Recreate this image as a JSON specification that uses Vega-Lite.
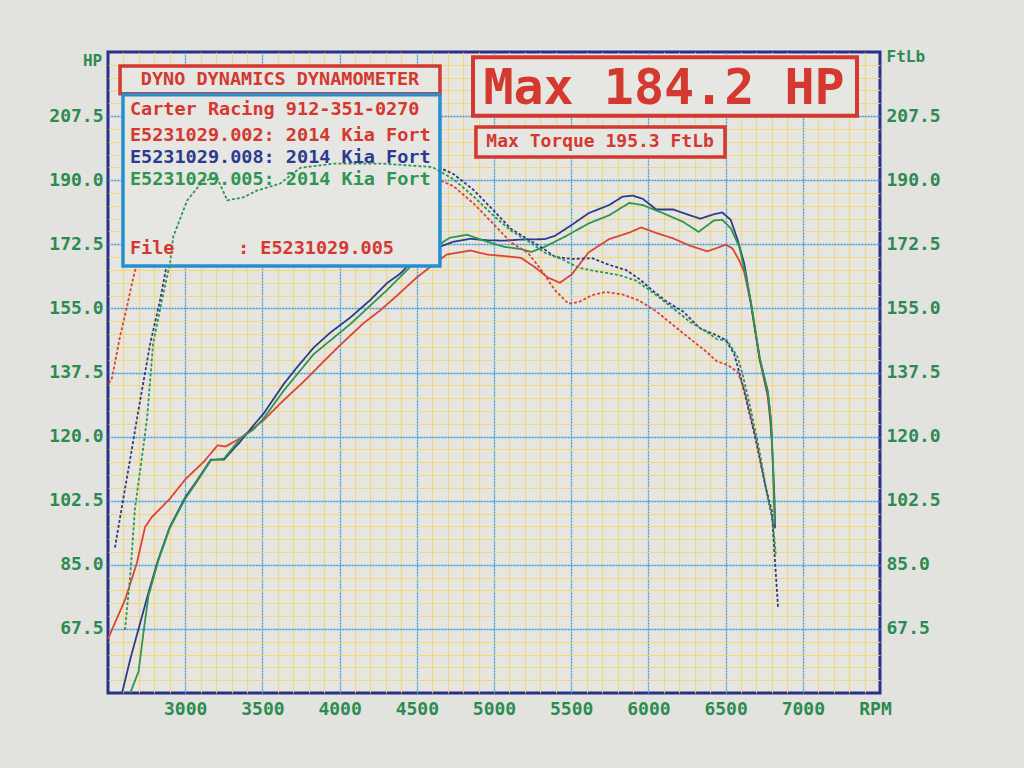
{
"$schema": "https://vega.github.io/schema/vega-lite/v6.json",
"width": 772, "height": 641,
"autosize": {"type": "none"},
"padding": {"left": 108, "top": 52, "right": 144, "bottom": 75},
"background": "#e2e2df",
"config": {
 "view": {"fill": "#e6e5e0", "stroke": "#28318a", "strokeWidth": 3},
 "axis": {"labelFont": "DejaVu Sans Mono", "labelFontWeight": "bold", "labelColor": "#2b8c50", "labelFontSize": 18, "titleFont": "DejaVu Sans Mono", "titleFontWeight": "bold", "titleColor": "#2b8c50"}
},
"datasets": {
 "one": [{}],
 "curves": [
{"rpm":2500,"v":64.8,"run":"E5231029.002","kind":"HP"},{"rpm":2612,"v":75.6,"run":"E5231029.002","kind":"HP"},{"rpm":2687,"v":85.5,"run":"E5231029.002","kind":"HP"},{"rpm":2740,"v":95.3,"run":"E5231029.002","kind":"HP"},{"rpm":2783,"v":98.0,"run":"E5231029.002","kind":"HP"},{"rpm":2847,"v":100.7,"run":"E5231029.002","kind":"HP"},{"rpm":2900,"v":103.0,"run":"E5231029.002","kind":"HP"},{"rpm":3000,"v":108.3,"run":"E5231029.002","kind":"HP"},{"rpm":3124,"v":113.3,"run":"E5231029.002","kind":"HP"},{"rpm":3209,"v":117.6,"run":"E5231029.002","kind":"HP"},{"rpm":3262,"v":117.3,"run":"E5231029.002","kind":"HP"},{"rpm":3358,"v":119.6,"run":"E5231029.002","kind":"HP"},{"rpm":3508,"v":124.5,"run":"E5231029.002","kind":"HP"},{"rpm":3637,"v":129.9,"run":"E5231029.002","kind":"HP"},{"rpm":3767,"v":135.0,"run":"E5231029.002","kind":"HP"},{"rpm":3896,"v":140.5,"run":"E5231029.002","kind":"HP"},{"rpm":4004,"v":145.0,"run":"E5231029.002","kind":"HP"},{"rpm":4156,"v":151.0,"run":"E5231029.002","kind":"HP"},{"rpm":4264,"v":154.5,"run":"E5231029.002","kind":"HP"},{"rpm":4372,"v":158.5,"run":"E5231029.002","kind":"HP"},{"rpm":4501,"v":163.5,"run":"E5231029.002","kind":"HP"},{"rpm":4606,"v":166.9,"run":"E5231029.002","kind":"HP"},{"rpm":4693,"v":169.7,"run":"E5231029.002","kind":"HP"},{"rpm":4847,"v":170.8,"run":"E5231029.002","kind":"HP"},{"rpm":4956,"v":169.7,"run":"E5231029.002","kind":"HP"},{"rpm":5088,"v":169.2,"run":"E5231029.002","kind":"HP"},{"rpm":5175,"v":168.8,"run":"E5231029.002","kind":"HP"},{"rpm":5263,"v":166.3,"run":"E5231029.002","kind":"HP"},{"rpm":5350,"v":163.4,"run":"E5231029.002","kind":"HP"},{"rpm":5427,"v":162.0,"run":"E5231029.002","kind":"HP"},{"rpm":5504,"v":164.3,"run":"E5231029.002","kind":"HP"},{"rpm":5613,"v":170.3,"run":"E5231029.002","kind":"HP"},{"rpm":5745,"v":173.9,"run":"E5231029.002","kind":"HP"},{"rpm":5876,"v":175.7,"run":"E5231029.002","kind":"HP"},{"rpm":5953,"v":177.1,"run":"E5231029.002","kind":"HP"},{"rpm":6051,"v":175.6,"run":"E5231029.002","kind":"HP"},{"rpm":6161,"v":174.1,"run":"E5231029.002","kind":"HP"},{"rpm":6270,"v":172.1,"run":"E5231029.002","kind":"HP"},{"rpm":6380,"v":170.6,"run":"E5231029.002","kind":"HP"},{"rpm":6445,"v":171.5,"run":"E5231029.002","kind":"HP"},{"rpm":6500,"v":172.4,"run":"E5231029.002","kind":"HP"},{"rpm":6544,"v":171.4,"run":"E5231029.002","kind":"HP"},{"rpm":6588,"v":168.1,"run":"E5231029.002","kind":"HP"},{"rpm":6620,"v":165.0,"run":"E5231029.002","kind":"HP"},{"rpm":6663,"v":156.5,"run":"E5231029.002","kind":"HP"},{"rpm":6721,"v":141.0,"run":"E5231029.002","kind":"HP"},{"rpm":6773,"v":131.0,"run":"E5231029.002","kind":"HP"},{"rpm":6790,"v":124.0,"run":"E5231029.002","kind":"HP"},{"rpm":6800,"v":119.5,"run":"E5231029.002","kind":"HP"},
{"rpm":2591,"v":50.0,"run":"E5231029.008","kind":"HP"},{"rpm":2645,"v":59.4,"run":"E5231029.008","kind":"HP"},{"rpm":2698,"v":67.5,"run":"E5231029.008","kind":"HP"},{"rpm":2762,"v":77.4,"run":"E5231029.008","kind":"HP"},{"rpm":2825,"v":86.4,"run":"E5231029.008","kind":"HP"},{"rpm":2900,"v":95.3,"run":"E5231029.008","kind":"HP"},{"rpm":3000,"v":103.4,"run":"E5231029.008","kind":"HP"},{"rpm":3081,"v":108.3,"run":"E5231029.008","kind":"HP"},{"rpm":3166,"v":113.7,"run":"E5231029.008","kind":"HP"},{"rpm":3251,"v":113.7,"run":"E5231029.008","kind":"HP"},{"rpm":3358,"v":118.7,"run":"E5231029.008","kind":"HP"},{"rpm":3443,"v":123.1,"run":"E5231029.008","kind":"HP"},{"rpm":3508,"v":126.3,"run":"E5231029.008","kind":"HP"},{"rpm":3637,"v":134.3,"run":"E5231029.008","kind":"HP"},{"rpm":3724,"v":138.9,"run":"E5231029.008","kind":"HP"},{"rpm":3832,"v":144.3,"run":"E5231029.008","kind":"HP"},{"rpm":3940,"v":148.4,"run":"E5231029.008","kind":"HP"},{"rpm":4069,"v":152.5,"run":"E5231029.008","kind":"HP"},{"rpm":4199,"v":157.3,"run":"E5231029.008","kind":"HP"},{"rpm":4307,"v":161.9,"run":"E5231029.008","kind":"HP"},{"rpm":4393,"v":164.5,"run":"E5231029.008","kind":"HP"},{"rpm":4458,"v":167.3,"run":"E5231029.008","kind":"HP"},{"rpm":4501,"v":168.2,"run":"E5231029.008","kind":"HP"},{"rpm":4588,"v":171.0,"run":"E5231029.008","kind":"HP"},{"rpm":4660,"v":172.0,"run":"E5231029.008","kind":"HP"},{"rpm":4737,"v":173.2,"run":"E5231029.008","kind":"HP"},{"rpm":4847,"v":174.0,"run":"E5231029.008","kind":"HP"},{"rpm":4956,"v":173.6,"run":"E5231029.008","kind":"HP"},{"rpm":5066,"v":173.5,"run":"E5231029.008","kind":"HP"},{"rpm":5175,"v":173.8,"run":"E5231029.008","kind":"HP"},{"rpm":5328,"v":173.9,"run":"E5231029.008","kind":"HP"},{"rpm":5394,"v":174.8,"run":"E5231029.008","kind":"HP"},{"rpm":5504,"v":177.8,"run":"E5231029.008","kind":"HP"},{"rpm":5613,"v":181.0,"run":"E5231029.008","kind":"HP"},{"rpm":5745,"v":183.2,"run":"E5231029.008","kind":"HP"},{"rpm":5832,"v":185.5,"run":"E5231029.008","kind":"HP"},{"rpm":5898,"v":185.8,"run":"E5231029.008","kind":"HP"},{"rpm":5964,"v":184.9,"run":"E5231029.008","kind":"HP"},{"rpm":6051,"v":182.0,"run":"E5231029.008","kind":"HP"},{"rpm":6161,"v":182.0,"run":"E5231029.008","kind":"HP"},{"rpm":6270,"v":180.4,"run":"E5231029.008","kind":"HP"},{"rpm":6336,"v":179.5,"run":"E5231029.008","kind":"HP"},{"rpm":6424,"v":180.7,"run":"E5231029.008","kind":"HP"},{"rpm":6478,"v":181.2,"run":"E5231029.008","kind":"HP"},{"rpm":6533,"v":179.2,"run":"E5231029.008","kind":"HP"},{"rpm":6577,"v":173.8,"run":"E5231029.008","kind":"HP"},{"rpm":6621,"v":167.2,"run":"E5231029.008","kind":"HP"},{"rpm":6663,"v":156.6,"run":"E5231029.008","kind":"HP"},{"rpm":6721,"v":141.2,"run":"E5231029.008","kind":"HP"},{"rpm":6773,"v":132.1,"run":"E5231029.008","kind":"HP"},{"rpm":6792,"v":124.9,"run":"E5231029.008","kind":"HP"},{"rpm":6808,"v":111.3,"run":"E5231029.008","kind":"HP"},{"rpm":6817,"v":102.2,"run":"E5231029.008","kind":"HP"},{"rpm":6820,"v":95.0,"run":"E5231029.008","kind":"HP"},
{"rpm":2644,"v":50.0,"run":"E5231029.005","kind":"HP"},{"rpm":2698,"v":55.9,"run":"E5231029.005","kind":"HP"},{"rpm":2730,"v":66.6,"run":"E5231029.005","kind":"HP"},{"rpm":2762,"v":76.5,"run":"E5231029.005","kind":"HP"},{"rpm":2825,"v":86.0,"run":"E5231029.005","kind":"HP"},{"rpm":2900,"v":95.0,"run":"E5231029.005","kind":"HP"},{"rpm":3000,"v":103.0,"run":"E5231029.005","kind":"HP"},{"rpm":3081,"v":108.0,"run":"E5231029.005","kind":"HP"},{"rpm":3166,"v":113.5,"run":"E5231029.005","kind":"HP"},{"rpm":3251,"v":114.0,"run":"E5231029.005","kind":"HP"},{"rpm":3358,"v":119.5,"run":"E5231029.005","kind":"HP"},{"rpm":3443,"v":122.0,"run":"E5231029.005","kind":"HP"},{"rpm":3508,"v":125.0,"run":"E5231029.005","kind":"HP"},{"rpm":3637,"v":132.5,"run":"E5231029.005","kind":"HP"},{"rpm":3832,"v":142.5,"run":"E5231029.005","kind":"HP"},{"rpm":4069,"v":150.7,"run":"E5231029.005","kind":"HP"},{"rpm":4307,"v":160.0,"run":"E5231029.005","kind":"HP"},{"rpm":4480,"v":167.3,"run":"E5231029.005","kind":"HP"},{"rpm":4588,"v":171.0,"run":"E5231029.005","kind":"HP"},{"rpm":4715,"v":174.3,"run":"E5231029.005","kind":"HP"},{"rpm":4825,"v":175.1,"run":"E5231029.005","kind":"HP"},{"rpm":4956,"v":173.2,"run":"E5231029.005","kind":"HP"},{"rpm":5066,"v":171.8,"run":"E5231029.005","kind":"HP"},{"rpm":5175,"v":171.2,"run":"E5231029.005","kind":"HP"},{"rpm":5241,"v":170.4,"run":"E5231029.005","kind":"HP"},{"rpm":5328,"v":171.8,"run":"E5231029.005","kind":"HP"},{"rpm":5460,"v":174.6,"run":"E5231029.005","kind":"HP"},{"rpm":5613,"v":178.2,"run":"E5231029.005","kind":"HP"},{"rpm":5745,"v":180.4,"run":"E5231029.005","kind":"HP"},{"rpm":5876,"v":183.8,"run":"E5231029.005","kind":"HP"},{"rpm":5964,"v":183.2,"run":"E5231029.005","kind":"HP"},{"rpm":6095,"v":181.0,"run":"E5231029.005","kind":"HP"},{"rpm":6226,"v":178.6,"run":"E5231029.005","kind":"HP"},{"rpm":6325,"v":175.9,"run":"E5231029.005","kind":"HP"},{"rpm":6424,"v":179.0,"run":"E5231029.005","kind":"HP"},{"rpm":6478,"v":179.2,"run":"E5231029.005","kind":"HP"},{"rpm":6533,"v":176.9,"run":"E5231029.005","kind":"HP"},{"rpm":6588,"v":171.9,"run":"E5231029.005","kind":"HP"},{"rpm":6630,"v":164.0,"run":"E5231029.005","kind":"HP"},{"rpm":6663,"v":157.0,"run":"E5231029.005","kind":"HP"},{"rpm":6721,"v":141.5,"run":"E5231029.005","kind":"HP"},{"rpm":6773,"v":132.5,"run":"E5231029.005","kind":"HP"},{"rpm":6795,"v":124.0,"run":"E5231029.005","kind":"HP"},{"rpm":6808,"v":111.0,"run":"E5231029.005","kind":"HP"},{"rpm":6815,"v":100.0,"run":"E5231029.005","kind":"HP"},{"rpm":6818,"v":96.0,"run":"E5231029.005","kind":"HP"},
{"rpm":2505,"v":134.5,"run":"E5231029.002","kind":"Torque"},{"rpm":2526,"v":136.0,"run":"E5231029.002","kind":"Torque"},{"rpm":2578,"v":147.4,"run":"E5231029.002","kind":"Torque"},{"rpm":2623,"v":155.5,"run":"E5231029.002","kind":"Torque"},{"rpm":2656,"v":162.0,"run":"E5231029.002","kind":"Torque"},{"rpm":2688,"v":167.4,"run":"E5231029.002","kind":"Torque"},{"rpm":4628,"v":190.4,"run":"E5231029.002","kind":"Torque"},{"rpm":4737,"v":188.4,"run":"E5231029.002","kind":"Torque"},{"rpm":4869,"v":183.6,"run":"E5231029.002","kind":"Torque"},{"rpm":5000,"v":177.9,"run":"E5231029.002","kind":"Torque"},{"rpm":5110,"v":173.0,"run":"E5231029.002","kind":"Torque"},{"rpm":5219,"v":170.2,"run":"E5231029.002","kind":"Torque"},{"rpm":5306,"v":165.5,"run":"E5231029.002","kind":"Torque"},{"rpm":5394,"v":160.0,"run":"E5231029.002","kind":"Torque"},{"rpm":5482,"v":156.3,"run":"E5231029.002","kind":"Torque"},{"rpm":5548,"v":156.7,"run":"E5231029.002","kind":"Torque"},{"rpm":5635,"v":158.6,"run":"E5231029.002","kind":"Torque"},{"rpm":5723,"v":159.5,"run":"E5231029.002","kind":"Torque"},{"rpm":5832,"v":158.8,"run":"E5231029.002","kind":"Torque"},{"rpm":5942,"v":157.1,"run":"E5231029.002","kind":"Torque"},{"rpm":6051,"v":154.2,"run":"E5231029.002","kind":"Torque"},{"rpm":6161,"v":150.4,"run":"E5231029.002","kind":"Torque"},{"rpm":6270,"v":146.7,"run":"E5231029.002","kind":"Torque"},{"rpm":6380,"v":143.0,"run":"E5231029.002","kind":"Torque"},{"rpm":6445,"v":140.5,"run":"E5231029.002","kind":"Torque"},{"rpm":6511,"v":139.6,"run":"E5231029.002","kind":"Torque"},{"rpm":6577,"v":137.7,"run":"E5231029.002","kind":"Torque"},{"rpm":6620,"v":133.0,"run":"E5231029.002","kind":"Torque"},{"rpm":6660,"v":126.0,"run":"E5231029.002","kind":"Torque"},{"rpm":6700,"v":119.0,"run":"E5231029.002","kind":"Torque"},{"rpm":6757,"v":106.5,"run":"E5231029.002","kind":"Torque"},{"rpm":6800,"v":98.0,"run":"E5231029.002","kind":"Torque"},{"rpm":6810,"v":95.0,"run":"E5231029.002","kind":"Torque"},
{"rpm":2545,"v":89.7,"run":"E5231029.008","kind":"Torque"},{"rpm":2600,"v":103.3,"run":"E5231029.008","kind":"Torque"},{"rpm":2656,"v":116.9,"run":"E5231029.008","kind":"Torque"},{"rpm":2688,"v":125.0,"run":"E5231029.008","kind":"Torque"},{"rpm":2773,"v":145.3,"run":"E5231029.008","kind":"Torque"},{"rpm":2838,"v":157.4,"run":"E5231029.008","kind":"Torque"},{"rpm":2883,"v":167.4,"run":"E5231029.008","kind":"Torque"},{"rpm":4584,"v":194.6,"run":"E5231029.008","kind":"Torque"},{"rpm":4737,"v":191.7,"run":"E5231029.008","kind":"Torque"},{"rpm":4869,"v":187.3,"run":"E5231029.008","kind":"Torque"},{"rpm":5000,"v":181.6,"run":"E5231029.008","kind":"Torque"},{"rpm":5110,"v":176.7,"run":"E5231029.008","kind":"Torque"},{"rpm":5219,"v":173.9,"run":"E5231029.008","kind":"Torque"},{"rpm":5328,"v":171.1,"run":"E5231029.008","kind":"Torque"},{"rpm":5394,"v":169.1,"run":"E5231029.008","kind":"Torque"},{"rpm":5504,"v":168.5,"run":"E5231029.008","kind":"Torque"},{"rpm":5635,"v":168.7,"run":"E5231029.008","kind":"Torque"},{"rpm":5745,"v":166.9,"run":"E5231029.008","kind":"Torque"},{"rpm":5854,"v":165.5,"run":"E5231029.008","kind":"Torque"},{"rpm":5942,"v":163.0,"run":"E5231029.008","kind":"Torque"},{"rpm":6029,"v":159.8,"run":"E5231029.008","kind":"Torque"},{"rpm":6117,"v":156.9,"run":"E5231029.008","kind":"Torque"},{"rpm":6226,"v":154.1,"run":"E5231029.008","kind":"Torque"},{"rpm":6336,"v":149.5,"run":"E5231029.008","kind":"Torque"},{"rpm":6424,"v":148.0,"run":"E5231029.008","kind":"Torque"},{"rpm":6500,"v":146.4,"run":"E5231029.008","kind":"Torque"},{"rpm":6555,"v":142.6,"run":"E5231029.008","kind":"Torque"},{"rpm":6599,"v":136.0,"run":"E5231029.008","kind":"Torque"},{"rpm":6632,"v":130.3,"run":"E5231029.008","kind":"Torque"},{"rpm":6694,"v":119.4,"run":"E5231029.008","kind":"Torque"},{"rpm":6757,"v":106.7,"run":"E5231029.008","kind":"Torque"},{"rpm":6800,"v":99.5,"run":"E5231029.008","kind":"Torque"},{"rpm":6820,"v":85.9,"run":"E5231029.008","kind":"Torque"},{"rpm":6840,"v":73.2,"run":"E5231029.008","kind":"Torque"},
{"rpm":2610,"v":67.2,"run":"E5231029.005","kind":"Torque"},{"rpm":2643,"v":81.6,"run":"E5231029.005","kind":"Torque"},{"rpm":2675,"v":100.5,"run":"E5231029.005","kind":"Torque"},{"rpm":2727,"v":116.7,"run":"E5231029.005","kind":"Torque"},{"rpm":2753,"v":125.0,"run":"E5231029.005","kind":"Torque"},{"rpm":2792,"v":145.3,"run":"E5231029.005","kind":"Torque"},{"rpm":2850,"v":157.4,"run":"E5231029.005","kind":"Torque"},{"rpm":2902,"v":167.4,"run":"E5231029.005","kind":"Torque"},{"rpm":2922,"v":174.5,"run":"E5231029.005","kind":"Torque"},{"rpm":3013,"v":184.5,"run":"E5231029.005","kind":"Torque"},{"rpm":3117,"v":189.9,"run":"E5231029.005","kind":"Torque"},{"rpm":3207,"v":190.7,"run":"E5231029.005","kind":"Torque"},{"rpm":3272,"v":184.5,"run":"E5231029.005","kind":"Torque"},{"rpm":3376,"v":185.3,"run":"E5231029.005","kind":"Torque"},{"rpm":3467,"v":187.2,"run":"E5231029.005","kind":"Torque"},{"rpm":3616,"v":189.1,"run":"E5231029.005","kind":"Torque"},{"rpm":3746,"v":193.4,"run":"E5231029.005","kind":"Torque"},{"rpm":3960,"v":194.5,"run":"E5231029.005","kind":"Torque"},{"rpm":4285,"v":194.5,"run":"E5231029.005","kind":"Torque"},{"rpm":4600,"v":193.6,"run":"E5231029.005","kind":"Torque"},{"rpm":4737,"v":190.3,"run":"E5231029.005","kind":"Torque"},{"rpm":4869,"v":185.5,"run":"E5231029.005","kind":"Torque"},{"rpm":5000,"v":180.2,"run":"E5231029.005","kind":"Torque"},{"rpm":5110,"v":176.2,"run":"E5231029.005","kind":"Torque"},{"rpm":5219,"v":173.4,"run":"E5231029.005","kind":"Torque"},{"rpm":5328,"v":170.2,"run":"E5231029.005","kind":"Torque"},{"rpm":5438,"v":168.5,"run":"E5231029.005","kind":"Torque"},{"rpm":5548,"v":166.1,"run":"E5231029.005","kind":"Torque"},{"rpm":5657,"v":165.2,"run":"E5231029.005","kind":"Torque"},{"rpm":5810,"v":164.1,"run":"E5231029.005","kind":"Torque"},{"rpm":5920,"v":162.6,"run":"E5231029.005","kind":"Torque"},{"rpm":6029,"v":159.3,"run":"E5231029.005","kind":"Torque"},{"rpm":6161,"v":155.0,"run":"E5231029.005","kind":"Torque"},{"rpm":6270,"v":151.3,"run":"E5231029.005","kind":"Torque"},{"rpm":6380,"v":148.5,"run":"E5231029.005","kind":"Torque"},{"rpm":6445,"v":146.6,"run":"E5231029.005","kind":"Torque"},{"rpm":6511,"v":146.2,"run":"E5231029.005","kind":"Torque"},{"rpm":6577,"v":141.8,"run":"E5231029.005","kind":"Torque"},{"rpm":6610,"v":137.0,"run":"E5231029.005","kind":"Torque"},{"rpm":6660,"v":128.0,"run":"E5231029.005","kind":"Torque"},{"rpm":6720,"v":116.0,"run":"E5231029.005","kind":"Torque"},{"rpm":6770,"v":104.0,"run":"E5231029.005","kind":"Torque"},{"rpm":6805,"v":97.0,"run":"E5231029.005","kind":"Torque"},{"rpm":6825,"v":88.0,"run":"E5231029.005","kind":"Torque"}
 ]
},
"resolve": {"axis": {"x": "independent", "y": "independent"}},
"layer": [
 {
  "data": {"name": "curves"},
  "transform": [{"filter": "!(datum.run === 'E5231029.005' && datum.kind === 'Torque')"}],
  "mark": {"type": "line", "strokeWidth": 1.8},
  "encoding": {
   "x": {"field": "rpm", "type": "quantitative", "scale": {"domain": [2500, 7500], "nice": false, "zero": false},
     "axis": {"orient": "bottom", "values": [2600,2700,2800,2900,3100,3200,3300,3400,3600,3700,3800,3900,4100,4200,4300,4400,4600,4700,4800,4900,5100,5200,5300,5400,5600,5700,5800,5900,6100,6200,6300,6400,6600,6700,6800,6900,7100,7200,7300,7400], "labels": false, "ticks": false, "domain": false, "title": null, "grid": true, "gridColor": "#f0d66e", "gridWidth": 1.1, "gridOpacity": 0.85}},
   "y": {"field": "v", "type": "quantitative", "scale": {"domain": [50, 225], "nice": false, "zero": false},
     "axis": {"orient": "left", "values": [53.5,57,60.5,64,71,74.5,78,81.5,88.5,92,95.5,99,106,109.5,113,116.5,123.5,127,130.5,134,141,144.5,148,151.5,158.5,162,165.5,169,176,179.5,183,186.5,193.5,197,200.5,204,211,214.5,218,221.5], "labels": false, "ticks": false, "domain": false, "title": null, "grid": true, "gridColor": "#f0d66e", "gridWidth": 1.1, "gridOpacity": 0.85}},
   "color": {"field": "run", "type": "nominal", "scale": {"domain": ["E5231029.002", "E5231029.008", "E5231029.005"], "range": ["#dc4434", "#2c3b8e", "#2e9652"]}, "legend": null},
   "strokeDash": {"field": "kind", "type": "nominal", "scale": {"domain": ["HP", "Torque"], "range": [[1, 0], [3, 2]]}, "legend": null}
  }
 },
 {
  "data": {"name": "curves"},
  "mark": {"type": "point", "opacity": 0},
  "encoding": {
   "x": {"field": "rpm", "type": "quantitative",
     "axis": {"orient": "bottom", "values": [3000,3500,4000,4500,5000,5500,6000,6500,7000], "format": "d", "grid": true, "gridColor": "#3a9bd8", "gridDash": [2, 1], "gridWidth": 1.3, "ticks": false, "domain": false, "labelPadding": 7, "labelBaseline": "top",
       "title": "RPM", "titleFontSize": 18, "titleX": 767, "titleY": 21, "titleAlign": "center", "titleBaseline": "alphabetic"}},
   "y": {"field": "v", "type": "quantitative",
     "axis": {"orient": "left", "values": [67.5,85,102.5,120,137.5,155,172.5,190,207.5], "format": ".1f", "grid": true, "gridColor": "#3a9bd8", "gridDash": [2, 1], "gridWidth": 1.3, "ticks": false, "domain": false, "labelPadding": 5,
       "title": "HP", "titleFontSize": 16, "titleAngle": 0, "titleX": -16, "titleY": 8, "titleAlign": "center", "titleBaseline": "middle"}}
  }
 },
 {
  "data": {"name": "curves"},
  "mark": {"type": "point", "opacity": 0},
  "encoding": {
   "x": {"field": "rpm", "type": "quantitative", "axis": null},
   "y": {"field": "v", "type": "quantitative",
     "axis": {"orient": "right", "values": [67.5,85,102.5,120,137.5,155,172.5,190,207.5], "format": ".1f", "grid": false, "ticks": false, "domain": false, "labelPadding": 6,
       "title": "FtLb", "titleFontSize": 16, "titleAngle": 0, "titleX": 6, "titleY": 4, "titleAlign": "left", "titleBaseline": "middle"}}
  }
 },
 {
  "data": {"name": "one"},
  "mark": {"type": "rect", "fill": "#e6e6e3", "stroke": "#d4382f", "strokeWidth": 3.5},
  "encoding": {"x": {"datum": 2578, "axis": null}, "x2": {"datum": 4650}, "y": {"datum": 221.2, "axis": null}, "y2": {"datum": 213.6}}
 },
 {
  "data": {"name": "one"},
  "mark": {"type": "rect", "fill": "#e6e6e3", "stroke": "#2590cf", "strokeWidth": 3.5},
  "encoding": {"x": {"datum": 2597, "axis": null}, "x2": {"datum": 4650}, "y": {"datum": 213.3, "axis": null}, "y2": {"datum": 166.6}}
 },
 {
  "data": {"name": "one"},
  "mark": {"type": "rect", "fill": "#e6e6e3", "stroke": "#d4382f", "strokeWidth": 4},
  "encoding": {"x": {"datum": 4864, "axis": null}, "x2": {"datum": 7351}, "y": {"datum": 223.6, "axis": null}, "y2": {"datum": 207.6}}
 },
 {
  "data": {"name": "one"},
  "mark": {"type": "rect", "fill": "#e6e6e3", "stroke": "#d4382f", "strokeWidth": 3.5},
  "encoding": {"x": {"datum": 4883, "axis": null}, "x2": {"datum": 6496}, "y": {"datum": 204.5, "axis": null}, "y2": {"datum": 196.3}}
 },
 {
  "data": {"name": "curves"},
  "transform": [{"filter": "datum.run === 'E5231029.005' && datum.kind === 'Torque'"}],
  "mark": {"type": "line", "strokeWidth": 1.8},
  "encoding": {
   "x": {"field": "rpm", "type": "quantitative", "axis": null},
   "y": {"field": "v", "type": "quantitative", "axis": null},
   "color": {"field": "run", "type": "nominal", "legend": null},
   "strokeDash": {"field": "kind", "type": "nominal", "legend": null}
  }
 },
 {
  "data": {"name": "one"},
  "mark": {"type": "text", "text": "DYNO DYNAMICS DYNAMOMETER", "font": "DejaVu Sans Mono", "fontWeight": "bold", "fontSize": 18.5, "fill": "#d4382f", "align": "center", "baseline": "middle"},
  "encoding": {"x": {"datum": 3614, "axis": null}, "y": {"datum": 217.5, "axis": null}}
 },
 {
  "data": {"name": "one"},
  "mark": {"type": "text", "text": "Carter Racing 912-351-0270", "font": "DejaVu Sans Mono", "fontWeight": "bold", "fontSize": 18.5, "fill": "#d4382f", "align": "left", "baseline": "middle"},
  "encoding": {"x": {"datum": 2642, "axis": null}, "y": {"datum": 209.4, "axis": null}}
 },
 {
  "data": {"name": "one"},
  "mark": {"type": "text", "text": "E5231029.002: 2014 Kia Fort", "font": "DejaVu Sans Mono", "fontWeight": "bold", "fontSize": 18.5, "fill": "#d4382f", "align": "left", "baseline": "middle"},
  "encoding": {"x": {"datum": 2642, "axis": null}, "y": {"datum": 202.3, "axis": null}}
 },
 {
  "data": {"name": "one"},
  "mark": {"type": "text", "text": "E5231029.008: 2014 Kia Fort", "font": "DejaVu Sans Mono", "fontWeight": "bold", "fontSize": 18.5, "fill": "#2c3b8e", "align": "left", "baseline": "middle"},
  "encoding": {"x": {"datum": 2642, "axis": null}, "y": {"datum": 196.3, "axis": null}}
 },
 {
  "data": {"name": "one"},
  "mark": {"type": "text", "text": "E5231029.005: 2014 Kia Fort", "font": "DejaVu Sans Mono", "fontWeight": "bold", "fontSize": 18.5, "fill": "#2e9652", "align": "left", "baseline": "middle"},
  "encoding": {"x": {"datum": 2642, "axis": null}, "y": {"datum": 190.3, "axis": null}}
 },
 {
  "data": {"name": "one"},
  "mark": {"type": "text", "text": "File", "font": "DejaVu Sans Mono", "fontWeight": "bold", "fontSize": 18.5, "fill": "#d4382f", "align": "left", "baseline": "middle"},
  "encoding": {"x": {"datum": 2642, "axis": null}, "y": {"datum": 171.5, "axis": null}}
 },
 {
  "data": {"name": "one"},
  "mark": {"type": "text", "text": ": E5231029.005", "font": "DejaVu Sans Mono", "fontWeight": "bold", "fontSize": 18.5, "fill": "#d4382f", "align": "left", "baseline": "middle"},
  "encoding": {"x": {"datum": 3342, "axis": null}, "y": {"datum": 171.5, "axis": null}}
 },
 {
  "data": {"name": "one"},
  "mark": {"type": "text", "text": "Max 184.2 HP", "font": "DejaVu Sans Mono", "fontWeight": "bold", "fontSize": 50, "fill": "#d4382f", "align": "center", "baseline": "middle"},
  "encoding": {"x": {"datum": 6101, "axis": null}, "y": {"datum": 214.8, "axis": null}}
 },
 {
  "data": {"name": "one"},
  "mark": {"type": "text", "text": "Max Torque 195.3 FtLb", "font": "DejaVu Sans Mono", "fontWeight": "bold", "fontSize": 18, "fill": "#d4382f", "align": "center", "baseline": "middle"},
  "encoding": {"x": {"datum": 5687, "axis": null}, "y": {"datum": 200.4, "axis": null}}
 }
]
}
